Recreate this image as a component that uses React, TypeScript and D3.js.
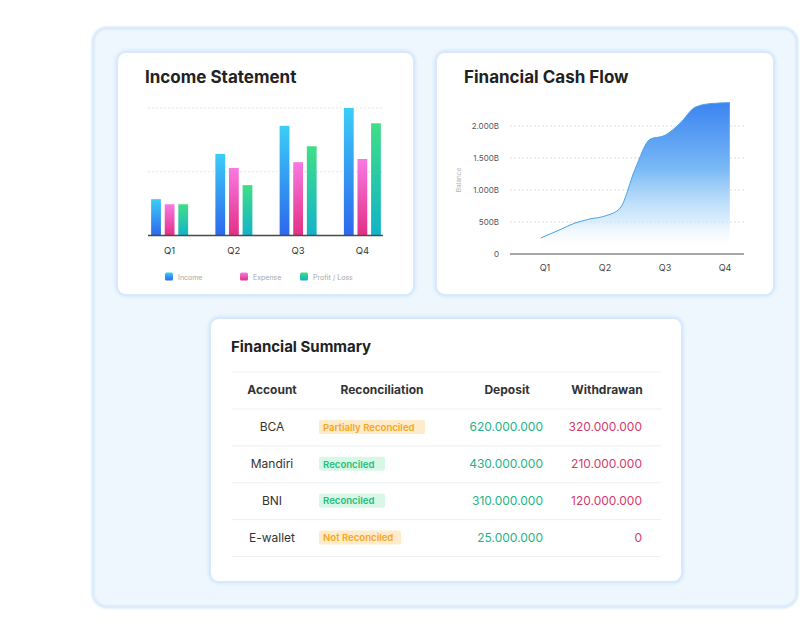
import React, { useEffect } from "react";
import * as d3 from "d3";

// income statement (per quarter)
const quarters = ["Q1", "Q2", "Q3", "Q4"];
const seriesNames = ["Income", "Expense", "Profit / Loss"];
const incomeValues = [57, 128, 172, 200];
const expenseValues = [49, 106, 115, 120];
const profitValues = [49, 79, 140, 176];
const incomeGridTicks = [100, 200];

// cash flow balance (x in quarters)
const cashPeriods = [0.93, 1.25, 1.5, 1.75, 2, 2.25, 2.5, 2.75, 3, 3.25, 3.5, 3.75, 4.08];
const cashBalance = [250, 380, 484, 547, 594, 714, 1323, 1792, 1854, 2042, 2292, 2349, 2365];
const cashTicks = [0, 500, 1000, 1500, 2000];

// summary table
const tableHeaders = ["Account", "Reconciliation", "Deposit", "Withdrawan"];
const accounts = ["BCA", "Mandiri", "BNI", "E-wallet"];
const reconStatus = ["Partially Reconciled", "Reconciled", "Reconciled", "Not Reconciled"];
const deposits = [620000000, 430000000, 310000000, 25000000];
const withdrawals = [320000000, 210000000, 120000000, 0];

const FONT = "Inter, 'Noto Sans', sans-serif";
const idLocale = d3.formatLocale({ decimal: ",", thousands: ".", grouping: [3], currency: ["Rp", ""] });
const fmtNum = idLocale.format(",d");

const gradIds = ["gIncome", "gExpense", "gProfit"];

function Card({ x, y, w, h }: { x: number; y: number; w: number; h: number }) {
  return (
    <rect x={x} y={y} width={w} height={h} rx={9} fill="#ffffff" stroke="#d7e9fa" strokeWidth={2} filter="url(#cardShadow)" />
  );
}

function IncomeChart() {
  const x0 = d3.scaleBand<string>().domain(quarters).range([137.5, 394.5]);
  const x1 = d3.scaleBand<string>().domain(seriesNames).range([0, 37]).paddingInner(0.28);
  const y = d3.scaleLinear().domain([0, 200]).range([235.5, 108]);
  const off = (x0.bandwidth() - 37) / 2;
  const series = [incomeValues, expenseValues, profitValues];
  const legendX = [165, 240, 300];

  return (
    <g>
      <Card x={117} y={52} w={297} h={243} />
      <text x={145} y={83} fontFamily={FONT} fontWeight={700} fontSize={17} fill="#222">Income Statement</text>
      {incomeGridTicks.map((t) => (
        <line key={t} x1={148} x2={383} y1={y(t)} y2={y(t)} stroke="#e2e2e2" strokeDasharray="2,2" />
      ))}
      {quarters.map((q, qi) =>
        series.map((s, si) => (
          <rect
            key={q + si}
            x={(x0(q) || 0) + off + (x1(seriesNames[si]) || 0)}
            y={y(s[qi])}
            width={x1.bandwidth()}
            height={y(0) - y(s[qi])}
            fill={`url(#${gradIds[si]})`}
          />
        ))
      )}
      <line x1={148} x2={383} y1={y(0)} y2={y(0)} stroke="#4a4a4a" strokeWidth={1.5} />
      {quarters.map((q) => (
        <text key={q} x={(x0(q) || 0) + x0.bandwidth() / 2} y={253.5} textAnchor="middle" fontFamily={FONT} fontSize={9.5} fill="#333">
          {q}
        </text>
      ))}
      {seriesNames.map((n, i) => (
        <g key={n}>
          <rect x={legendX[i]} y={272.5} width={8} height={8} rx={1.5} fill={`url(#${gradIds[i]})`} />
          <text x={legendX[i] + 13} y={279.5} fontFamily={FONT} fontSize={7} fill="#a8a8a8">{n}</text>
        </g>
      ))}
    </g>
  );
}

function CashFlowChart() {
  const x = d3.scaleLinear().domain([1, 4]).range([545, 725]);
  const y = d3.scaleLinear().domain([0, 2000]).range([254, 126]);
  const pts = cashPeriods.map((p, i) => [p, cashBalance[i]] as [number, number]);
  const area = d3
    .area<[number, number]>()
    .x((d) => x(d[0]))
    .y0(y(0))
    .y1((d) => y(d[1]))
    .curve(d3.curveMonotoneX);
  const line = d3
    .line<[number, number]>()
    .x((d) => x(d[0]))
    .y((d) => y(d[1]))
    .curve(d3.curveMonotoneX);

  return (
    <g>
      <Card x={436} y={52} w={338} h={243} />
      <text x={464} y={83} fontFamily={FONT} fontWeight={700} fontSize={17} fill="#222">Financial Cash Flow</text>
      {cashTicks.slice(1).map((t) => (
        <line key={t} x1={510} x2={744} y1={y(t)} y2={y(t)} stroke="#dedede" strokeDasharray="2,2" />
      ))}
      <path d={area(pts) || ""} fill="url(#gArea)" />
      <path d={line(pts) || ""} fill="none" stroke="#4aa3e6" strokeWidth={1} />
      <line x1={510} x2={744} y1={y(0)} y2={y(0)} stroke="#8a8a8a" strokeWidth={1.5} />
      {cashTicks.map((t) => (
        <text key={t} x={499} y={y(t) + 3} textAnchor="end" fontFamily={FONT} fontSize={8} fill="#555">
          {t === 0 ? "0" : fmtNum(t) + "B"}
        </text>
      ))}
      <text transform="translate(461,180) rotate(-90)" textAnchor="middle" fontFamily={FONT} fontSize={6.5} fill="#b5b5b5">Balance</text>
      {quarters.map((q, i) => (
        <text key={q} x={x(i + 1)} y={271} textAnchor="middle" fontFamily={FONT} fontSize={9} fill="#444">{q}</text>
      ))}
    </g>
  );
}

function SummaryTable() {
  const rowY = d3.scaleBand<string>().domain(accounts).range([409, 556.5]);
  const colX = [272, 382, 507, 607];
  return (
    <g>
      <Card x={210} y={318} w={472} h={264} />
      <text x={231} y={352} fontFamily={FONT} fontWeight={700} fontSize={15} fill="#222">Financial Summary</text>
      <line x1={232} x2={661} y1={372} y2={372} stroke="#f0f0f0" />
      {tableHeaders.map((h, i) => (
        <text key={h} x={colX[i]} y={394} textAnchor="middle" fontFamily={FONT} fontWeight={700} fontSize={12} fill="#333">{h}</text>
      ))}
      {accounts.map((a, i) => {
        const top = rowY(a) || 0;
        const mid = top + rowY.bandwidth() / 2;
        const ok = reconStatus[i] === "Reconciled";
        const bw = reconStatus[i].length * 4 + 26;
        return (
          <g key={a}>
            <line x1={232} x2={661} y1={top} y2={top} stroke="#efefef" />
            <text x={colX[0]} y={mid + 4} textAnchor="middle" fontFamily={FONT} fontSize={12} fill="#333">{a}</text>
            <rect x={319} y={mid - 7.5} width={bw} height={14} rx={2} fill={ok ? "#d9f7e7" : "#fdebc9"} />
            <text x={323} y={mid + 3.2} fontFamily={FONT} fontWeight={600} fontSize={9.6} fill={ok ? "#21c07a" : "#f6a623"}>{reconStatus[i]}</text>
            <text x={543} y={mid + 4} textAnchor="end" fontFamily={FONT} fontSize={12} fill="#22b486">{fmtNum(deposits[i])}</text>
            <text x={642} y={mid + 4} textAnchor="end" fontFamily={FONT} fontSize={12} fill="#d63a6b">{fmtNum(withdrawals[i])}</text>
          </g>
        );
      })}
      <line x1={232} x2={661} y1={556.5} y2={556.5} stroke="#efefef" />
    </g>
  );
}

export default function App() {
  useEffect(() => {
    document.body.style.margin = "0";
  }, []);

  return (
    <svg width={800} height={636} style={{ display: "block", background: "#ffffff" }}>
      <defs>
        <linearGradient id="gIncome" x1="0" y1="0" x2="0" y2="1">
          <stop offset="0%" stopColor="#3ccdf6" />
          <stop offset="100%" stopColor="#2c67ee" />
        </linearGradient>
        <linearGradient id="gExpense" x1="0" y1="0" x2="0" y2="1">
          <stop offset="0%" stopColor="#f77ae3" />
          <stop offset="100%" stopColor="#e32f86" />
        </linearGradient>
        <linearGradient id="gProfit" x1="0" y1="0" x2="0" y2="1">
          <stop offset="0%" stopColor="#40de86" />
          <stop offset="100%" stopColor="#12b3c9" />
        </linearGradient>
        <linearGradient id="gArea" gradientUnits="userSpaceOnUse" x1="0" y1="103" x2="0" y2="250">
          <stop offset="0%" stopColor="#3c84f1" />
          <stop offset="45%" stopColor="#79b9f5" />
          <stop offset="80%" stopColor="#c9e6fc" stopOpacity={0.7} />
          <stop offset="100%" stopColor="#ffffff" stopOpacity={0} />
        </linearGradient>
        <filter id="cardShadow" x="-10%" y="-10%" width="120%" height="120%">
          <feDropShadow dx="0" dy="0" stdDeviation="2" floodColor="#bcdaf6" floodOpacity="0.8" />
        </filter>
        <filter id="panelBlur" x="-5%" y="-5%" width="110%" height="110%">
          <feGaussianBlur stdDeviation="1.2" />
        </filter>
      </defs>
      <rect x={93} y={28} width={704} height={579} rx={14} fill="#eff7fe" stroke="#cfe4f8" strokeWidth={2.5} filter="url(#panelBlur)" />
      <IncomeChart />
      <CashFlowChart />
      <SummaryTable />
    </svg>
  );
}
